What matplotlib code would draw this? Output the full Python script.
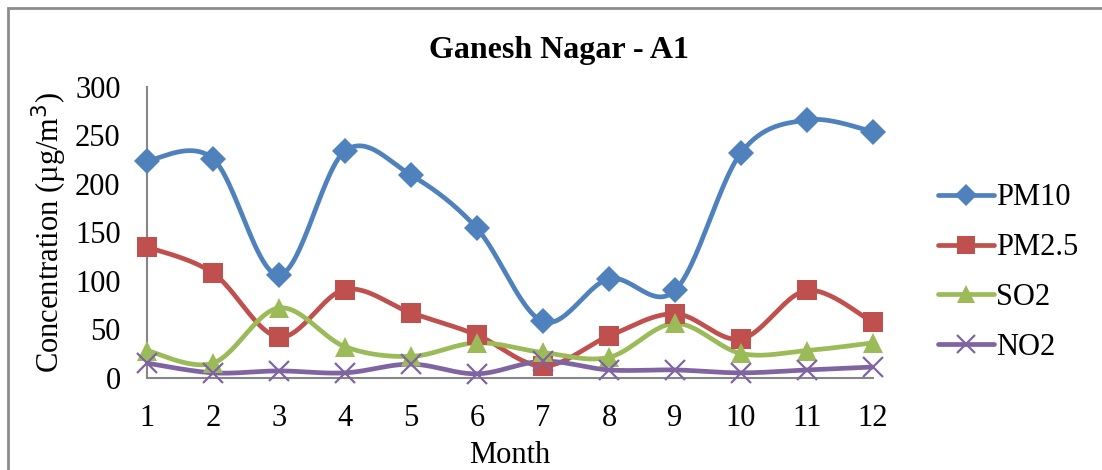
import matplotlib
matplotlib.use("Agg")
import matplotlib.pyplot as plt
import numpy as np
from matplotlib.patches import Rectangle

# data
months = [1, 2, 3, 4, 5, 6, 7, 8, 9, 10, 11, 12]
pm10 = [224, 226, 106, 234, 209, 154, 58, 102, 90, 232, 266, 254]
pm25 = [135, 108, 42, 91, 67, 44, 12, 43, 66, 40, 90, 57]
so2 = [28, 15, 72, 32, 22, 36, 26, 21, 56, 25, 28, 36]
no2 = [15, 5, 7, 5, 14, 4, 17, 8, 8, 5, 8, 11]

series = [
    ("PM10", pm10, "#4F81BD", "D", 13, 0.0),
    ("PM2.5", pm25, "#C0504D", "s", 14, 0.0),
    ("SO2", so2, "#9BBB59", "^", 15, 0.0),
    ("NO2", no2, "#8064A2", "x", 15, 1.6),
]


def smooth(xs, ys, n=30):
    # Excel-style smoothed line: cubic Bezier with Catmull-Rom tangents
    xs = np.asarray(xs, float)
    ys = np.asarray(ys, float)
    px, py = [], []
    for i in range(len(xs) - 1):
        i0 = max(i - 1, 0)
        i3 = min(i + 2, len(xs) - 1)
        p0 = np.array([xs[i], ys[i]])
        p3 = np.array([xs[i + 1], ys[i + 1]])
        c1 = p0 + (p3 - np.array([xs[i0], ys[i0]])) / 6.0
        c2 = p3 - (np.array([xs[i3], ys[i3]]) - p0) / 6.0
        t = np.linspace(0, 1, n)[:, None]
        pts = ((1 - t) ** 3) * p0 + 3 * ((1 - t) ** 2) * t * c1 + 3 * (1 - t) * t ** 2 * c2 + t ** 3 * p3
        px.extend(pts[:, 0])
        py.extend(pts[:, 1])
    return px, py


plt.rcParams['font.family'] = ['Liberation Serif', 'DejaVu Serif']

fig = plt.figure(figsize=(11.02, 4.70), dpi=100)
ax = fig.add_axes([0.1334, 0.1964, 0.6588, 0.6185])

handles = []
for name, vals, col, mk, ms, mew in series:
    sx, sy = smooth(months, vals)
    ax.plot(sx, sy, color=col, lw=3.4, solid_capstyle='round', zorder=2)
    ax.plot(months, vals, ls='none', marker=mk, ms=ms, color=col,
            mec=col, mew=mew, zorder=3, clip_on=False)
    h, = ax.plot([], [], color=col, lw=3.4, marker=mk, ms=ms * 0.9,
                 mec=col, mew=mew, solid_capstyle='round', label=name)
    handles.append(h)

ax.set_xlim(1, 12)
ax.set_ylim(0, 300)
ax.set_xticks(months)
ax.set_yticks(range(0, 301, 50))
ax.tick_params(axis='both', length=0, labelsize=22)
ax.tick_params(axis='x', pad=19)
ax.tick_params(axis='y', pad=19)
for s in ['top', 'right']:
    ax.spines[s].set_visible(False)
for s in ['left', 'bottom']:
    ax.spines[s].set_color('#868686')
    ax.spines[s].set_linewidth(1.5)

ax.set_xlabel("Month", fontsize=22, labelpad=6)
ax.set_ylabel("Concentration (µg/m$^3$)", fontsize=22, labelpad=4)
fig.text(0.507, 0.893, "Ganesh Nagar - A1", ha='center', va='center',
         fontsize=23, fontweight='bold')

fig.legend(handles=handles, loc='center left', bbox_to_anchor=(0.851, 0.42),
           frameon=False, fontsize=22, handlelength=1.85, handletextpad=0.05,
           labelspacing=0.68, borderpad=0, borderaxespad=0)

fig.patches.append(Rectangle((8 / 1102, -0.1), 1.2, (470 - 8) / 470 + 0.1,
                             transform=fig.transFigure, fill=False,
                             edgecolor='#8c8c8c', lw=2))

fig.savefig("out.png", dpi=100)
